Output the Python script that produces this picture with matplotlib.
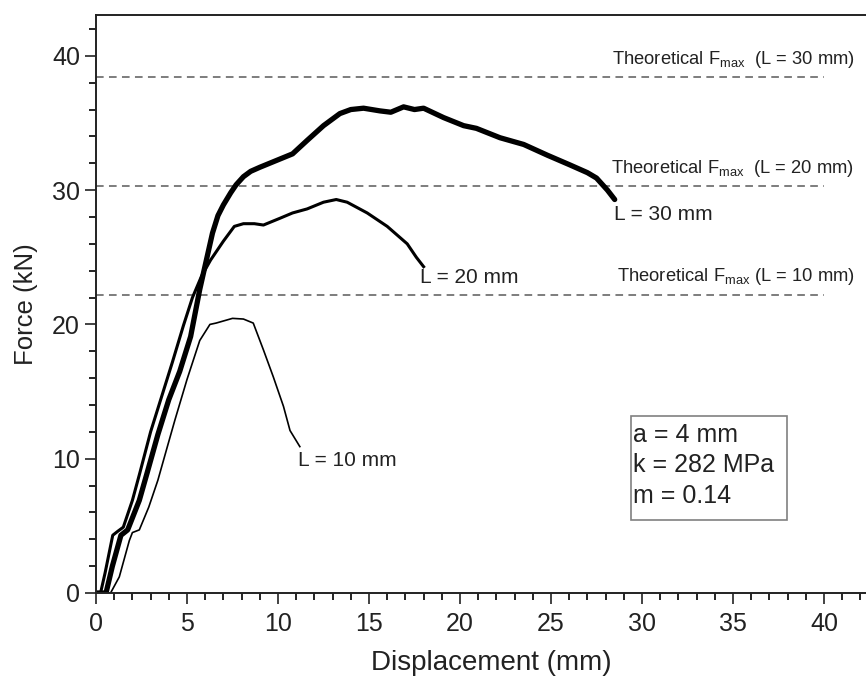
import matplotlib
matplotlib.use("Agg")
import matplotlib.pyplot as plt
from matplotlib.patches import Rectangle
from matplotlib.ticker import MultipleLocator

plt.rcParams["font.family"] = ["Liberation Sans", "DejaVu Sans"]
plt.rcParams["mathtext.fontset"] = "custom"
plt.rcParams["mathtext.rm"] = "Liberation Sans"

# force-displacement curves
disp_30 = [0, 0.55, 0.9, 1.37, 1.74, 2.38, 2.8, 3.4, 4.0, 4.6, 5.2, 5.7, 6.1, 6.4, 6.7, 7.0, 7.4,
           7.7, 8.1, 8.5, 9.0, 9.9, 10.8, 11.6, 12.5, 13.0, 13.4, 14.0, 14.7, 15.6, 16.2, 16.9,
           17.5, 18.0, 19.1, 20.2, 20.9, 22.2, 23.5, 24.8, 26.0, 27.0, 27.5, 28.1, 28.5]
force_30 = [0, 0, 2.0, 4.3, 4.7, 6.9, 8.9, 11.8, 14.4, 16.5, 19.1, 22.6, 25.0, 26.8, 28.1, 28.9, 29.8,
            30.4, 31.0, 31.4, 31.7, 32.2, 32.7, 33.7, 34.8, 35.3, 35.7, 36.0, 36.1, 35.9, 35.8, 36.2,
            36.0, 36.1, 35.4, 34.8, 34.6, 33.9, 33.4, 32.6, 31.9, 31.3, 30.9, 30.0, 29.3]

disp_20 = [0, 0.25, 0.5, 0.92, 1.2, 1.5, 2.0, 2.4, 3.0, 3.6, 4.2, 4.8, 5.3, 5.8, 6.3, 7.0, 7.6,
           8.1, 8.7, 9.2, 10.1, 10.8, 11.6, 12.5, 13.2, 13.8, 14.9, 16.0, 17.1, 17.6, 18.0]
force_20 = [0, 0, 1.5, 4.3, 4.6, 4.9, 6.9, 8.9, 12.0, 14.6, 17.2, 19.9, 22.0, 23.6, 24.8, 26.2, 27.3,
            27.5, 27.5, 27.4, 27.9, 28.3, 28.6, 29.1, 29.3, 29.1, 28.3, 27.3, 26.0, 25.0, 24.3]

disp_10 = [0, 0.8, 1.28, 1.83, 2.0, 2.38, 2.9, 3.4, 3.9, 4.34, 5.0, 5.7, 6.26, 6.6, 7.5, 8.1,
           8.64, 9.2, 9.74, 10.3, 10.66, 11.2]
force_10 = [0, 0, 1.2, 3.9, 4.5, 4.7, 6.4, 8.4, 10.8, 12.9, 15.9, 18.8, 20.0, 20.1, 20.45, 20.4,
            20.1, 18.1, 16.1, 13.9, 12.1, 10.9]

theory_fmax = [38.4, 30.3, 22.2]
theory_labels = [r"Theoretical F$_\mathregular{max}$  (L = 30 mm)",
                 r"Theoretical F$_\mathregular{max}$  (L = 20 mm)",
                 r"Theoretical F$_\mathregular{max}$ (L = 10 mm)"]
theory_label_x = [28.35, 28.3, 28.65]

fig = plt.figure(figsize=(8.66, 6.8), dpi=100)
# axes runs a bit past the right edge of the image, as in the original
ax = fig.add_axes([96 / 866, 87 / 680, 790 / 866, 578 / 680])

for yv, lab, lx in zip(theory_fmax, theory_labels, theory_label_x):
    ax.plot([0, 40], [yv, yv], color="#5a5a5a", lw=1.1, ls=(0, (5, 3.5)))
    ax.text(lx, yv + 0.55, lab, fontsize=13.2, ha="left", va="bottom", color="#222222")

ax.plot(disp_30, force_30, color="black", lw=3.8, solid_capstyle="round", solid_joinstyle="round")
ax.plot(disp_20, force_20, color="black", lw=2.2, solid_joinstyle="round")
ax.plot(disp_10, force_10, color="black", lw=1.2, solid_joinstyle="round")

ax.text(28.45, 28.2, "L = 30 mm", fontsize=15, va="center", ha="left", color="#222222")
ax.text(17.8, 23.5, "L = 20 mm", fontsize=15, va="center", ha="left", color="#222222")
ax.text(11.1, 9.9, "L = 10 mm", fontsize=15, va="center", ha="left", color="#222222")

ax.add_patch(Rectangle((29.4, 5.44), 8.57, 7.74, fc="white", ec="#808080", lw=1.2, zorder=3))
ax.text(29.52, 9.5, "a = 4 mm\nk = 282 MPa\nm = 0.14", fontsize=18, va="center", ha="left",
        linespacing=1.33, color="#222222", zorder=4)

ax.set_xlim(0, 790 / 18.2)
ax.set_ylim(0, 43.04)
ax.xaxis.set_major_locator(MultipleLocator(5))
ax.xaxis.set_minor_locator(MultipleLocator(1))
ax.yaxis.set_major_locator(MultipleLocator(10))
ax.yaxis.set_minor_locator(MultipleLocator(2))
ax.tick_params(which="major", direction="out", length=8, width=1.2, labelsize=18, colors="#222222")
ax.tick_params(axis="x", which="major", pad=6)
ax.tick_params(which="minor", direction="out", length=5, width=1.2)
ax.tick_params(top=False, right=False)
for sp in ax.spines.values():
    sp.set_linewidth(1.4)
    sp.set_color("#222222")

ax.set_xlabel("Displacement (mm)", fontsize=20, color="#222222", labelpad=10)
ax.set_ylabel("Force (kN)", fontsize=18.5, color="#222222", labelpad=10)

fig.savefig("out.png", dpi=100)
